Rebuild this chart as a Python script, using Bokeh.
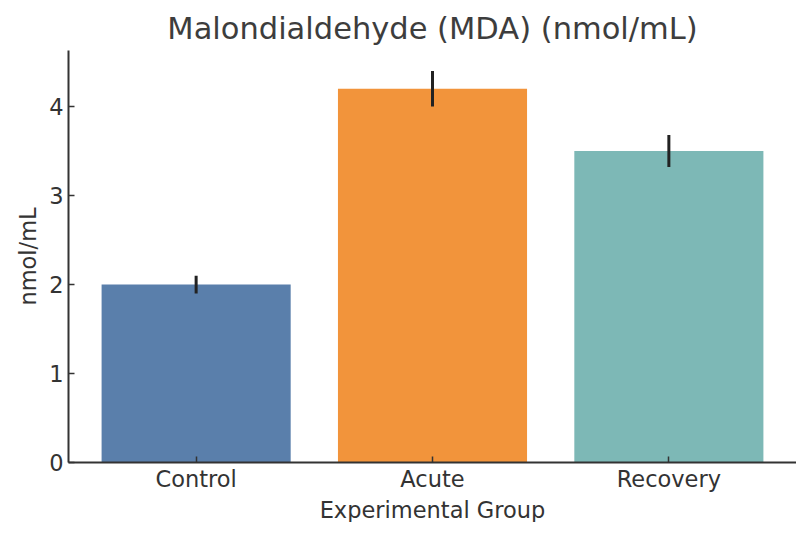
from bokeh.plotting import figure
from bokeh.models import ColumnDataSource, Range1d, FixedTicker, Title
from bokeh.embed import file_html
from bokeh.resources import INLINE

groups = ["Control", "Acute", "Recovery"]
values = [2.0, 4.2, 3.5]
errors = [0.1, 0.2, 0.18]
colors = ["#5A7FAB", "#F2943B", "#7DB8B6"]
y_ticks = [0, 1, 2, 3, 4]
x_title = "Experimental Group"
y_title = "nmol/mL"
chart_title = "Malondialdehyde (MDA) (nmol/mL)"

lower = [v - e for v, e in zip(values, errors)]
upper = [v + e for v, e in zip(values, errors)]

src = ColumnDataSource(dict(g=groups, v=values, c=colors, lo=lower, hi=upper))

FONT = "DejaVu Sans"
TXT = "#333333"
W, H = 796, 522
ML, MR, MT, MB = 68, 0, 50, 60

p = figure(x_range=groups, y_range=Range1d(0, 4.63), width=W, height=H,
           output_backend="svg", toolbar_location=None,
           title=chart_title,
           min_border_left=ML, min_border_right=MR, min_border_top=MT, min_border_bottom=MB)
p.x_range.range_padding = 0.04
p.x_range.range_padding_units = "absolute"

p.vbar(x="g", top="v", width=0.8, fill_color="c", line_color=None, source=src)
p.segment(x0="g", y0="lo", x1="g", y1="hi", line_color="#222222", line_width=3, source=src)

p.title.align = "center"
p.title.text_font = FONT
p.title.text_font_size = "30.5px"
p.title.text_font_style = "normal"
p.title.text_color = "#3d3d3d"

p.xgrid.visible = False
p.ygrid.visible = False
p.outline_line_color = None

for ax in (p.xaxis[0], p.yaxis[0]):
    ax.axis_line_color = "#333333"
    ax.axis_line_width = 2
    ax.major_tick_line_color = "#333333"
    ax.major_tick_line_width = 1.5
    ax.major_tick_in = 6
    ax.major_tick_out = 0
    ax.minor_tick_line_color = None
    ax.major_label_text_font = FONT
    ax.major_label_text_font_size = "22.5px"
    ax.major_label_text_color = TXT
    ax.axis_label_text_font = FONT
    ax.axis_label_text_font_size = "22.5px"
    ax.axis_label_text_font_style = "normal"
    ax.axis_label_text_color = TXT

p.yaxis.ticker = FixedTicker(ticks=y_ticks)
p.yaxis.axis_label = y_title
p.yaxis.major_label_standoff = 5
p.yaxis.axis_label_standoff = 5
p.xaxis.major_label_standoff = 3

xt = Title(text=x_title, align="center", text_font=FONT, text_font_size="22.5px",
           text_font_style="normal", text_color=TXT, standoff=0)
p.add_layout(xt, "below")

open("out.html", "w").write(file_html(p, INLINE))
